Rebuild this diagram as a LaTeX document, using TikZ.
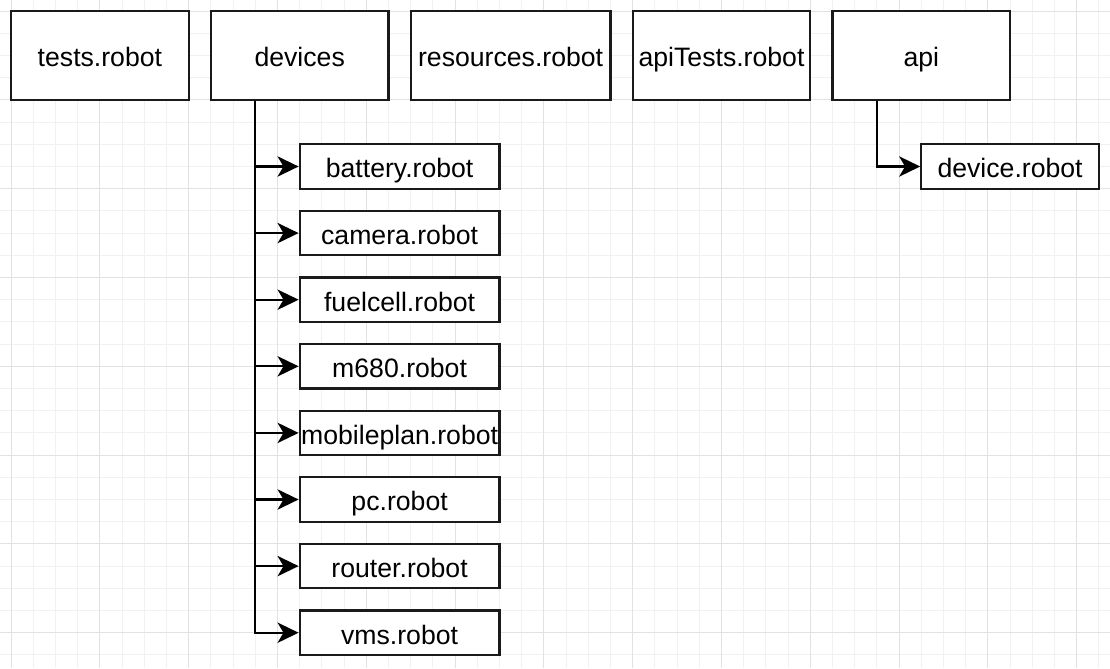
\documentclass[tikz,border=0pt]{standalone}
\usepackage{fontspec}
\setmainfont{Liberation Sans}
\usetikzlibrary{arrows.meta}
\definecolor{gridminor}{HTML}{F1F1F1}
\definecolor{gridmajor}{HTML}{E2E2E2}
\definecolor{ink}{HTML}{1A1A1A}
\begin{document}
\begin{tikzpicture}[x=0.05cm,y=-0.05cm,
  minorline/.style={draw=gridminor,line width=0.65pt},
  majorline/.style={draw=gridmajor,line width=0.7pt},
  filebox/.style={draw=ink,line width=1.4pt,fill=white,inner sep=0pt,
    text height=15.4pt,text depth=0.8pt,
    font=\fontsize{17.07pt}{20pt}\selectfont,text=black},
  topbox/.style={filebox,minimum width=4cm,minimum height=2cm},
  childbox/.style={filebox,minimum width=4.5cm,minimum height=1cm},
  conn/.style={draw=black,line width=1.4pt,
    -{Stealth[length=13.5pt,width=13pt,inset=3.8pt]}}]
  % canvas and background grid
  \useasboundingbox (0,0) rectangle (500,301);
  \fill[white] (0,0) rectangle (500,301);
  \foreach \x in {5,15,...,495} \draw[minorline] (\x,0) -- (\x,301);
  \foreach \y in {5,15,...,295} \draw[minorline] (0,\y) -- (500,\y);
  \foreach \x in {5,45,...,485} \draw[majorline] (\x,0) -- (\x,301);
  \foreach \y in {5,45,...,285} \draw[majorline] (0,\y) -- (500,\y);

  % top-level entries
  \node[topbox] (tests) at (45,25) {tests.robot};
  \node[topbox] (devices) at (135,25) {devices};
  \node[topbox,minimum width=4.5cm] (resources) at (230,25) {resources.robot};
  \node[topbox] (apitests) at (325,25) {apiTests.robot};
  \node[topbox] (api) at (415,25) {api};

  % contents of devices
  \node[childbox] (battery) at (180,75) {battery.robot};
  \node[childbox] (camera) at (180,105) {camera.robot};
  \node[childbox] (fuelcell) at (180,135) {fuelcell.robot};
  \node[childbox] (m680) at (180,165) {m680.robot};
  \node[childbox] (mobileplan) at (180,195) {\makebox[0pt]{mobileplan.robot}};
  \node[childbox] (pc) at (180,225) {pc.robot};
  \node[childbox] (router) at (180,255) {router.robot};
  \node[childbox] (vms) at (180,285) {vms.robot};

  % contents of api
  \node[childbox,minimum width=4cm] (device) at (455,75) {device.robot};

  % tree connectors
  \foreach \c in {vms,router,pc,mobileplan,m680,fuelcell,camera,battery}
    \draw[conn] ([xshift=-1cm]devices.south) |- (\c.west);
  \draw[conn] ([xshift=-1cm]api.south) |- (device.west);
\end{tikzpicture}
\end{document}
